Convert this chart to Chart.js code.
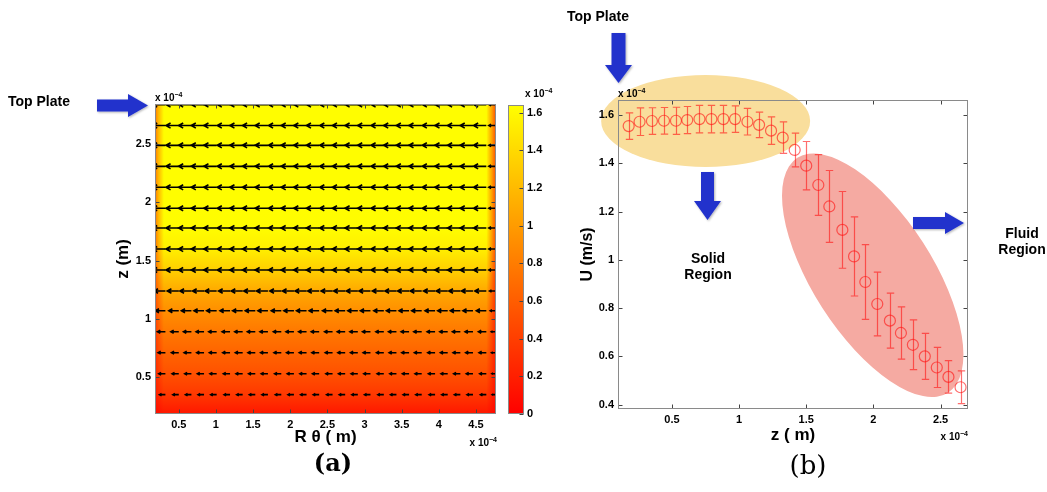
<!DOCTYPE html>
<html>
<head>
<meta charset="utf-8">
<script src="https://cdn.jsdelivr.net/npm/chart.js@4.4.0/dist/chart.umd.min.js"></script>
<style>
  html, body { margin: 0; padding: 0; background: #fff; }
  #page { position: relative; width: 1047px; height: 492px; overflow: hidden; font-family: 'Liberation Sans', Arial, sans-serif; }
  canvas { position: absolute; }
  svg { position: absolute; left: 0; top: 0; pointer-events: none; }
  .lbl { position: absolute; font-weight: bold; color: #000; white-space: nowrap; line-height: 1; }
  .exp { font-size: 10px; }
  .exp sup { font-size: 7px; vertical-align: 4px; }
  .serif { font-family: 'DejaVu Serif', 'Liberation Serif', serif; }
</style>
</head>
<body>
<div id="page">
  <canvas id="chartA" width="520" height="390" style="left:0;top:80px"></canvas>
  <canvas id="chartCb" width="70" height="390" style="left:500px;top:80px"></canvas>
  <canvas id="chartB" width="502" height="492" style="left:545px;top:0"></canvas>

  <svg width="1047" height="492">
    <defs>
      <filter id="sh" x="-30%" y="-30%" width="160%" height="160%">
        <feDropShadow dx="1" dy="1" stdDeviation="1.2" flood-color="#000" flood-opacity="0.3"/>
      </filter>
    </defs>
    <g fill="#2233cc" filter="url(#sh)">
      <polygon points="97,99.5 128,99.5 128,94 148,105.5 128,117 128,111.5 97,111.5"/>
      <polygon points="611.5,33 625.5,33 625.5,65 632,65 618.5,83 605,65 611.5,65"/>
      <polygon points="701,172 714,172 714,201 721,201 707.5,220 694,201 701,201"/>
      <polygon points="913,217 945,217 945,212 964,223 945,234 945,229 913,229"/>
    </g>
  </svg>

  <div class="lbl" style="left:8px;top:101px;transform:translateY(-50%);font-size:14px">Top Plate</div>
  <div class="lbl" style="left:567px;top:16px;transform:translateY(-50%);font-size:14px">Top Plate</div>
  <div class="lbl" style="left:708px;top:266px;transform:translate(-50%,-50%);font-size:14px;text-align:center;line-height:16px">Solid<br>Region</div>
  <div class="lbl" style="left:1022px;top:241px;transform:translate(-50%,-50%);font-size:14px;text-align:center;line-height:16px">Fluid<br>Region</div>

  <div class="lbl exp" style="left:155px;top:97px;transform:translateY(-50%)">x 10<sup>−4</sup></div>
  <div class="lbl exp" style="right:550px;top:442px;transform:translateY(-50%)">x 10<sup>−4</sup></div>
  <div class="lbl exp" style="left:525px;top:93px;transform:translateY(-50%)">x 10<sup>−4</sup></div>
  <div class="lbl exp" style="left:618px;top:93px;transform:translateY(-50%)">x 10<sup>−4</sup></div>
  <div class="lbl exp" style="right:79px;top:436px;transform:translateY(-50%)">x 10<sup>−4</sup></div>

  <div class="lbl serif" style="left:333px;top:463px;transform:translate(-50%,-50%);font-size:24px">(a)</div>
  <div class="lbl serif" style="left:808px;top:465px;transform:translate(-50%,-50%);font-size:26px;font-weight:normal">(b)</div>
</div>

<script>
// ---------- panel (a): velocity field between the plates ----------
const aTicksX = [0.5, 1, 1.5, 2, 2.5, 3, 3.5, 4, 4.5];
const aTicksY = [0.5, 1, 1.5, 2, 2.5];
const aRangeX = [0.18, 4.77];
const aRangeY = [0.184, 2.845];

// colour field, one value per row (x 10^-4 m/s)
const fieldZ = [0.18, 0.35, 0.53, 0.71, 0.89, 1.07, 1.24, 1.42, 1.60, 1.78, 1.95, 2.13, 2.31, 2.49, 2.66, 2.84];
const fieldU = [0.14, 0.36, 0.52, 0.64, 0.77, 0.92, 1.09, 1.33, 1.54, 1.62, 1.63, 1.63, 1.63, 1.63, 1.63, 1.63];

// slower fluid next to the side walls
const wallLeftX = [0.18, 0.22, 0.30];
const wallLeftA = [0.55, 0.3, 0];
const wallRightX = [4.64, 4.71, 4.77];
const wallRightA = [0, 0.35, 0.7];

// quiver grid
const quiverX = [0.32, 0.50, 0.67, 0.84, 1.01, 1.19, 1.36, 1.53, 1.70, 1.88, 2.05, 2.22, 2.39,
                 2.57, 2.74, 2.91, 3.08, 3.26, 3.43, 3.60, 3.77, 3.95, 4.12, 4.29, 4.46, 4.64, 4.76];
const quiverW = [1, 1, 1, 1, 1, 1, 1, 1, 1, 1, 1, 1, 1, 1, 1, 1, 1, 1, 1, 1, 1, 1, 1, 1, 1, 1, 0.5];
const quiverZ = [0.35, 0.53, 0.71, 0.89, 1.07, 1.24, 1.42, 1.60, 1.78, 1.95, 2.13, 2.31, 2.49, 2.66, 2.84];
const quiverU = [0.75, 0.84, 0.92, 1.00, 1.26, 1.45, 1.62, 1.62, 1.62, 1.62, 1.62, 1.62, 1.62, 1.62, 1.62];
const quiverScale = 0.1066;

// colour bar
const cbRange = [0, 1.64];
const cbTicks = [0, 0.2, 0.4, 0.6, 0.8, 1, 1.2, 1.4, 1.6];

// ---------- panel (b): U against z ----------
const bTicksX = [0.5, 1, 1.5, 2, 2.5];
const bTicksY = [0.4, 0.6, 0.8, 1, 1.2, 1.4, 1.6];
const bRangeX = [0.0985, 2.7045];
const bRangeY = [0.382, 1.662];

const zData = [0.178, 0.259, 0.351, 0.441, 0.530, 0.614, 0.705, 0.794, 0.883, 0.970,
               1.062, 1.149, 1.238, 1.325, 1.414, 1.500, 1.590, 1.672, 1.769, 1.856,
               1.940, 2.029, 2.123, 2.205, 2.294, 2.383, 2.472, 2.559, 2.649];
const uData = [1.554, 1.572, 1.575, 1.576, 1.576, 1.579, 1.583, 1.583, 1.583, 1.583,
               1.572, 1.559, 1.535, 1.506, 1.455, 1.390, 1.310, 1.221, 1.124, 1.014,
               0.908, 0.817, 0.748, 0.697, 0.648, 0.600, 0.554, 0.515, 0.472];
const uErr = [0.055, 0.057, 0.055, 0.055, 0.056, 0.056, 0.057, 0.057, 0.057, 0.055,
              0.055, 0.053, 0.057, 0.065, 0.070, 0.100, 0.126, 0.149, 0.159, 0.164,
              0.155, 0.132, 0.114, 0.108, 0.103, 0.095, 0.083, 0.067, 0.068];

// highlighted regions (centre in data units, radii in pixels)
const solidRegion = { cx: 0.751, cy: 1.575, rx: 104.5, ry: 46, rot: 0, color: '#f9de9c' };
const fluidRegion = { cx: 1.995, cy: 0.936, rx: 139.5, ry: 60, rot: 57.3, color: '#f5aaa2' };

const markerColor = 'rgba(255, 20, 20, 0.62)';
const tickFont = { family: "'Liberation Sans', Arial, sans-serif", size: 11, weight: 'bold' };
const titleFont = (size) => ({ family: "'Liberation Sans', Arial, sans-serif", size: size, weight: 'bold' });

// matlab "autumn" colormap
function autumn(u) {
    const t = Math.min(1, Math.max(0, (u - cbRange[0]) / (cbRange[1] - cbRange[0])));
    return 'rgb(255,' + Math.round(255 * t) + ',0)';
}

function fixedTicks(list) {
    return s => { s.ticks = list.map(v => ({ value: v })); };
}

function axis(range, ticks, extra) {
    return Object.assign({
        type: 'linear',
        min: range[0],
        max: range[1],
        afterBuildTicks: fixedTicks(ticks),
        grid: { display: false, drawTicks: false },
        border: { display: false },
        ticks: { font: tickFont, color: '#000', padding: 4, maxRotation: 0, autoSkip: false, callback: v => String(v) }
    }, extra);
}

// frame with matlab style inward ticks
function boxPlugin(xTicks, yTicks, sides) {
    return {
        id: 'box',
        afterDatasetsDraw(chart) {
            const { ctx, chartArea: a, scales } = chart;
            const L = a.left + 0.5, R = a.right - 0.5, T = a.top + 0.5, B = a.bottom - 0.5;
            ctx.save();
            ctx.lineWidth = 1;
            ctx.strokeStyle = '#444';
            ctx.beginPath();
            if (sides.x) {
                xTicks.forEach(v => {
                    const p = Math.round(scales.x.getPixelForValue(v)) + 0.5;
                    ctx.moveTo(p, B); ctx.lineTo(p, B - 4);
                    ctx.moveTo(p, T); ctx.lineTo(p, T + 4);
                });
            }
            yTicks.forEach(v => {
                const p = Math.round(scales.y.getPixelForValue(v)) + 0.5;
                if (sides.left) { ctx.moveTo(L, p); ctx.lineTo(L + 4, p); }
                if (sides.right) { ctx.moveTo(R, p); ctx.lineTo(R - 4, p); }
            });
            ctx.stroke();
            ctx.strokeStyle = '#8a8a8a';
            ctx.strokeRect(L, T, R - L, B - T);
            ctx.restore();
        }
    };
}

// ---------- chart (a) ----------
const heatPlugin = {
    id: 'heat',
    beforeDatasetsDraw(chart) {
        const { ctx, chartArea: a, scales: { x, y } } = chart;
        ctx.save();
        ctx.beginPath();
        ctx.rect(a.left, a.top, a.width, a.height);
        ctx.clip();
        const last = fieldZ.length - 1;
        ctx.fillStyle = autumn(fieldU[last]);
        ctx.fillRect(a.left, a.top, a.width, y.getPixelForValue(fieldZ[last]) - a.top + 1);
        ctx.fillStyle = autumn(fieldU[0]);
        const yb = y.getPixelForValue(fieldZ[0]);
        ctx.fillRect(a.left, yb - 1, a.width, a.bottom - yb + 1);
        for (let i = 0; i < last; i++) {
            const y0 = y.getPixelForValue(fieldZ[i]);
            const y1 = y.getPixelForValue(fieldZ[i + 1]);
            const g = ctx.createLinearGradient(0, y0, 0, y1);
            g.addColorStop(0, autumn(fieldU[i]));
            g.addColorStop(1, autumn(fieldU[i + 1]));
            ctx.fillStyle = g;
            ctx.fillRect(a.left, y1, a.width, y0 - y1 + 1);
        }
        [[wallLeftX, wallLeftA], [wallRightX, wallRightA]].forEach(([xs, as]) => {
            const p0 = x.getPixelForValue(xs[0]);
            const p1 = x.getPixelForValue(xs[xs.length - 1]);
            const g = ctx.createLinearGradient(p0, 0, p1, 0);
            xs.forEach((v, k) => g.addColorStop((x.getPixelForValue(v) - p0) / (p1 - p0), 'rgba(255,0,0,' + as[k] + ')'));
            ctx.fillStyle = g;
            ctx.fillRect(p0, a.top, p1 - p0, a.height);
        });
        ctx.restore();
    }
};

const quiverPlugin = {
    id: 'quiver',
    afterDatasetsDraw(chart) {
        const { ctx, chartArea: a, scales: { x } } = chart;
        ctx.save();
        ctx.beginPath();
        ctx.rect(a.left, a.top, a.width, a.height);
        ctx.clip();
        ctx.strokeStyle = '#000';
        ctx.lineWidth = 1.6;
        chart.data.datasets.forEach((ds, i) => {
            const meta = chart.getDatasetMeta(i);
            meta.data.forEach((pt, j) => {
                const len = ds.speed * quiverW[j] * quiverScale;
                const hx = x.getPixelForValue(ds.data[j].x - len);
                const tx = pt.x, ty = pt.y;
                const hl = (tx - hx) * 0.36, hw = hl * 0.55;
                ctx.beginPath();
                ctx.moveTo(tx, ty);
                ctx.lineTo(hx, ty);
                ctx.moveTo(hx + hl, ty - hw);
                ctx.lineTo(hx, ty);
                ctx.lineTo(hx + hl, ty + hw);
                ctx.stroke();
            });
        });
        ctx.restore();
    }
};

new Chart(document.getElementById('chartA'), {
    type: 'scatter',
    data: {
        datasets: quiverZ.map((z, i) => ({
            data: quiverX.map(xv => ({ x: xv, y: z })),
            speed: quiverU[i],
            pointRadius: 0,
            pointHoverRadius: 0
        }))
    },
    options: {
        responsive: false,
        animation: false,
        devicePixelRatio: 1,
        layout: { padding: { left: 113, right: 24, top: 24, bottom: 22 } },
        plugins: { legend: { display: false }, tooltip: { enabled: false } },
        scales: {
            x: axis(aRangeX, aTicksX, {
                afterFit: s => { s.height = 34; },
                title: { display: true, text: 'R θ ( m)', font: titleFont(17), color: '#000', padding: 0 }
            }),
            y: axis(aRangeY, aTicksY, {
                afterFit: s => { s.width = 42; },
                title: { display: true, text: 'z (m)', font: titleFont(17), color: '#000', padding: 0 }
            })
        }
    },
    plugins: [heatPlugin, quiverPlugin, boxPlugin(aTicksX, aTicksY, { x: true, left: true, right: true })]
});

// ---------- colour bar ----------
new Chart(document.getElementById('chartCb'), {
    type: 'bar',
    data: {
        labels: ['u'],
        datasets: [{
            data: [cbRange],
            barPercentage: 1,
            categoryPercentage: 1,
            borderWidth: 0,
            backgroundColor: c => {
                const { ctx, chartArea, scales } = c.chart;
                if (!chartArea) return autumn(cbRange[1]);
                const g = ctx.createLinearGradient(0, scales.y.getPixelForValue(cbRange[0]), 0, scales.y.getPixelForValue(cbRange[1]));
                g.addColorStop(0, autumn(cbRange[0]));
                g.addColorStop(1, autumn(cbRange[1]));
                return g;
            }
        }]
    },
    options: {
        responsive: false,
        animation: false,
        devicePixelRatio: 1,
        layout: { padding: { left: 8, right: 16, top: 25, bottom: 56 } },
        plugins: { legend: { display: false }, tooltip: { enabled: false } },
        scales: {
            x: { display: false },
            y: axis(cbRange, cbTicks, {
                position: 'right',
                afterFit: s => { s.width = 30; },
                ticks: { font: tickFont, color: '#000', padding: 3, autoSkip: false, callback: v => String(v) }
            })
        }
    },
    plugins: [boxPlugin([], cbTicks, { right: true })]
});

// ---------- chart (b) ----------
const regionPlugin = {
    id: 'regions',
    beforeDraw(chart) {
        const { ctx, scales: { x, y } } = chart;
        ctx.save();
        [solidRegion, fluidRegion].forEach(r => {
            ctx.fillStyle = r.color;
            ctx.beginPath();
            ctx.ellipse(x.getPixelForValue(r.cx), y.getPixelForValue(r.cy), r.rx, r.ry, r.rot * Math.PI / 180, 0, 2 * Math.PI);
            ctx.fill();
        });
        ctx.restore();
    }
};

const errorBarPlugin = {
    id: 'errorBars',
    afterDatasetsDraw(chart) {
        const { ctx, scales: { x, y } } = chart;
        ctx.save();
        ctx.strokeStyle = markerColor;
        ctx.lineWidth = 1.2;
        zData.forEach((z, i) => {
            const px = Math.round(x.getPixelForValue(z)) + 0.5;
            const top = y.getPixelForValue(uData[i] + uErr[i]);
            const bot = y.getPixelForValue(uData[i] - uErr[i]);
            ctx.beginPath();
            ctx.moveTo(px, top); ctx.lineTo(px, bot);
            ctx.moveTo(px - 3.7, top); ctx.lineTo(px + 3.7, top);
            ctx.moveTo(px - 3.7, bot); ctx.lineTo(px + 3.7, bot);
            ctx.stroke();
        });
        ctx.restore();
    }
};

new Chart(document.getElementById('chartB'), {
    type: 'scatter',
    data: {
        datasets: [{
            data: zData.map((z, i) => ({ x: z, y: uData[i] })),
            pointStyle: 'circle',
            pointRadius: 5.5,
            pointHoverRadius: 5.5,
            pointBorderWidth: 1.2,
            pointBorderColor: markerColor,
            pointBackgroundColor: 'rgba(0,0,0,0)'
        }]
    },
    options: {
        responsive: false,
        animation: false,
        devicePixelRatio: 1,
        layout: { padding: { left: 33, right: 79, top: 100, bottom: 46 } },
        plugins: { legend: { display: false }, tooltip: { enabled: false } },
        scales: {
            x: axis(bRangeX, bTicksX, {
                afterFit: s => { s.height = 37; },
                title: { display: true, text: 'z ( m)', font: titleFont(17), color: '#000', padding: 0 }
            }),
            y: axis(bRangeY, bTicksY, {
                afterFit: s => { s.width = 40; },
                title: { display: true, text: 'U (m/s)', font: titleFont(16), color: '#000', padding: 0 }
            })
        }
    },
    plugins: [regionPlugin, errorBarPlugin, boxPlugin(bTicksX, bTicksY, { x: true, left: true, right: true })]
});
</script>
</body>
</html>
